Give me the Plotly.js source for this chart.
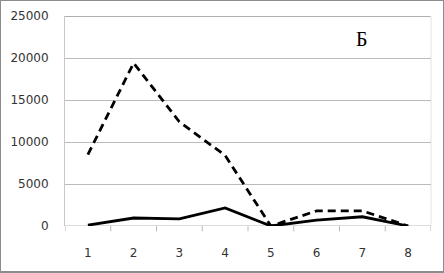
<!DOCTYPE html>
<html><head><meta charset="utf-8">
<script src="https://cdn.plot.ly/plotly-3.0.1.min.js"></script>
<style>
html,body{margin:0;padding:0;background:#fff;}
#wrap{position:relative;width:444px;height:273px;}
#chart{position:absolute;left:0;top:0;width:444px;height:273px;}
#frame{position:absolute;left:0;top:0;width:444px;height:273px;box-sizing:border-box;border:1.5px solid #8c8c8c;border-bottom-width:2px;pointer-events:none;}
</style></head>
<body><div id="wrap"><div id="chart"></div><div id="frame"></div></div>
<script>
const categories = [1, 2, 3, 4, 5, 6, 7, 8];
const dashedSeries = [8500, 19400, 12400, 8400, 0, 1800, 1800, 0];
const solidSeries = [100, 950, 850, 2150, 0, 700, 1100, 0];
const yTicks = [0, 5000, 10000, 15000, 20000, 25000];
const panelLabel = "Б";

const traces = [
  {x: categories, y: dashedSeries, type: 'scatter', mode: 'lines',
   line: {color: '#000', width: 2.8, dash: '8px,5px'}, hoverinfo: 'none'},
  {x: categories, y: solidSeries, type: 'scatter', mode: 'lines',
   line: {color: '#000', width: 2.8}, hoverinfo: 'none'}
];
const layout = {
  width: 444, height: 273,
  margin: {l: 65, r: 13, t: 16, b: 47},
  paper_bgcolor: '#fff', plot_bgcolor: '#fff',
  showlegend: false,
  font: {family: 'DejaVu Sans, Verdana, sans-serif', size: 12, color: '#333'},
  xaxis: {
    range: [0.5, 8.5], tickvals: categories, ticktext: categories.map(String),
    showgrid: false, zeroline: false, showline: false,
    ticks: '', ticklabelstandoff: 18, tickfont: {size: 12, color: '#333'}
  },
  yaxis: {
    range: [0, 25000], tickvals: yTicks, ticktext: yTicks.map(String),
    showgrid: true, gridcolor: '#bbbbbb', gridwidth: 1,
    zeroline: false, showline: true, linecolor: '#c8c8c8', linewidth: 1,
    ticks: '', ticklabelstandoff: 13, tickfont: {size: 12, color: '#333'}
  },
  shapes: [
    {type: 'line', xref: 'paper', yref: 'y', x0: 0, x1: 1, y0: 0, y1: 0, line: {color: '#b8b8b8', width: 1}, layer: 'below'},
    {type: 'line', xref: 'paper', yref: 'y', x0: 0, x1: 1, y0: 25000, y1: 25000, line: {color: '#b0b0b0', width: 2}, layer: 'below'},
    {type: 'line', xref: 'paper', yref: 'paper', x0: 1, x1: 1, y0: 0, y1: 1, line: {color: '#e4e4e4', width: 1}, layer: 'below'}
  ].concat([0.5,1.5,2.5,3.5,4.5,5.5,6.5,7.5,8.5].map(v => ({
    type: 'line', xref: 'x', yref: 'paper', x0: v, x1: v, y0: 0, y1: -0.025,
    line: {color: '#b8b8b8', width: 1}
  }))),
  annotations: [{
    text: panelLabel, xref: 'paper', yref: 'paper', x: 0.81, y: 0.89,
    xanchor: 'center', yanchor: 'middle',
    showarrow: false, font: {family: 'Liberation Serif, DejaVu Serif, serif', size: 20, color: '#000'}
  }]
};
Plotly.newPlot('chart', traces, layout, {staticPlot: true, displayModeBar: false});
</script></body></html>
